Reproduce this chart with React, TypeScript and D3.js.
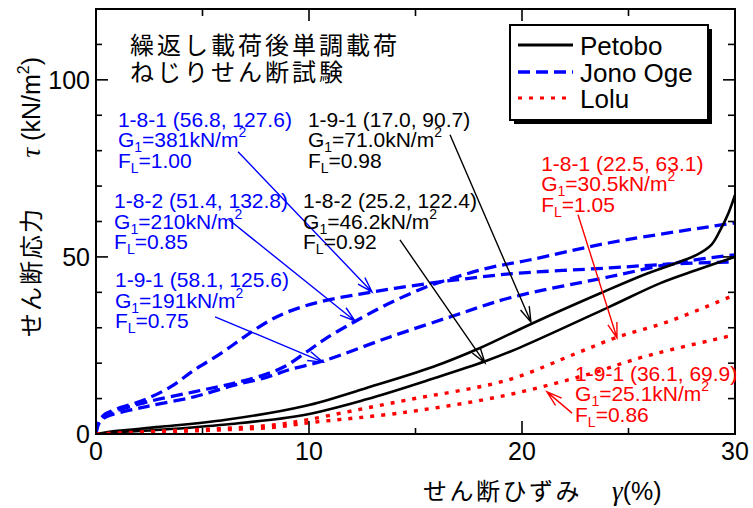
import React from "react";
import * as d3 from "d3";

// ---- data: shear strain γ (%) vs shear stress τ (kN/m²) ----
type Pt = [number, number];

// Petobo (solid black)
const petobo191: Pt[] = [
  [0, 0], [1, 0.9], [3, 2], [6.1, 4], [9.8, 7.9], [12.7, 13], [15.8, 18.9],
  [18, 24.2], [20.4, 31], [23.7, 39.8], [25.7, 44.9], [28.2, 50.6],
  [28.9, 53.5], [29.3, 57.5], [29.7, 62.5], [30, 67.5],
];
const petobo182: Pt[] = [
  [0, 0], [1, 0.5], [3, 1.2], [6.1, 2.7], [9.7, 5.3], [12.7, 9.8], [15.8, 15.6],
  [18.3, 20.6], [19.9, 24.4], [24.1, 35.9], [26.5, 42.6], [28.2, 46.3], [30, 50],
];

// Jono Oge (dashed blue)
const jono181: Pt[] = [
  [0, 0], [0.1, 3], [0.37, 5.4], [0.85, 6.8], [2.25, 9.6], [3.5, 13.3], [4.6, 18],
  [5.9, 22.9], [7.1, 28], [8.2, 32.2], [9.1, 34.7], [10.5, 37.3], [12.96, 40.1],
  [15.7, 42.6], [16.9, 43.5], [19.4, 45.2], [24.1, 46.9], [27.3, 48.1], [30, 48.6],
];
const jono182: Pt[] = [
  [0, 0], [0.1, 3], [0.37, 5], [2.25, 8.8], [4.6, 11.9], [6.5, 14.4], [8, 16.9],
  [8.9, 19.2], [9.8, 22.8], [10.8, 27], [12.2, 31.9], [13.8, 37], [15.5, 41.5],
  [16.9, 44.3], [18.5, 47], [20.4, 49.2], [24.1, 54], [30, 59.6],
];
const jono191: Pt[] = [
  [0, 0], [0.1, 2.5], [0.37, 4.5], [2.25, 7.6], [4.6, 10.5], [6.5, 13.8], [8, 16],
  [9.1, 18.2], [10.66, 20.6], [13.8, 27.4], [16.9, 33.6], [19.4, 38.4],
  [24.1, 44.4], [27.3, 48.4], [30, 50.6],
];

// Lolu (dotted red)
const lolu181: Pt[] = [
  [0, 0], [3.7, 1], [6.1, 1.6], [8.4, 2.6], [9.9, 4], [12, 6.5], [14.6, 9.6],
  [19.3, 15.2], [22.6, 22.9], [24.5, 27.4], [26.8, 31.6], [30, 39.3],
];
const lolu191: Pt[] = [
  [0, 0], [3.7, 0.7], [6.1, 1.2], [8.4, 1.9], [9.9, 3.1], [14.6, 6.2], [19.3, 11],
  [23.3, 17.2], [25.7, 21.8], [30, 28],
];

const xTicks = [0, 5, 10, 15, 20, 25, 30];
const xTickLabels = ["0", "10", "20", "30"];
const yTicks = [0, 10, 20, 30, 40, 50, 60, 70, 80, 90, 100, 110, 120];
const yTickLabels = ["0", "50", "100"];

const legendNames = ["Petobo", "Jono Oge", "Lolu"];
const titleLines = ["繰返し載荷後単調載荷", "ねじりせん断試験"];

// annotation blocks: text anchor (data units), arrow from → to (data units)
const annotations = [
  { id: "1-8-1 (56.8, 127.6)", g: "381kN/m", fl: "1.00", color: "#0000ff", at: [1.03, 86.7], from: [6.67, 79.7], to: [12.96, 40.1] },
  { id: "1-8-2 (51.4, 132.8)", g: "210kN/m", fl: "0.85", color: "#0000ff", at: [0.85, 63.8], from: [6.24, 60.5], to: [12.16, 31.9] },
  { id: "1-9-1 (58.1, 125.6)", g: "191kN/m", fl: "0.75", color: "#0000ff", at: [0.89, 41.5], from: [5.59, 33.1], to: [10.66, 20.3] },
  { id: "1-9-1 (17.0, 90.7)", g: "71.0kN/m", fl: "0.98", color: "#000000", at: [9.95, 86.7], from: [16.62, 84.5], to: [20.42, 31.6] },
  { id: "1-8-2 (25.2, 122.4)", g: "46.2kN/m", fl: "0.92", color: "#000000", at: [9.72, 63.8], from: [14.27, 54.8], to: [18.26, 20.1] },
  { id: "1-8-1 (22.5, 63.1)", g: "30.5kN/m", fl: "1.05", color: "#ff0000", at: [20.9, 74.3], from: [22.63, 61.9], to: [24.46, 27.1] },
  { id: "1-9-1 (36.1, 69.9)", g: "25.1kN/m", fl: "0.86", color: "#ff0000", at: [22.49, 15.0], from: [22.35, 5.9], to: [21.17, 11.9] },
];

const W = 753;
const H = 508;
const L = 96, R = 735, T = 9, B = 434;
const LATIN = "'Liberation Sans', Arial, sans-serif";
const CJK = "'Noto Sans CJK JP', sans-serif";

export default function App() {
  const x = d3.scaleLinear().domain([0, 30]).range([L, R]);
  const y = d3.scaleLinear().domain([0, 120]).range([B, T]);
  const line = d3
    .line<Pt>()
    .x((d) => x(d[0]))
    .y((d) => y(d[1]))
    .curve(d3.curveCatmullRom.alpha(0.5));

  const series = [
    { data: jono182, color: "#0000ff", w: 3.3, dash: "12 6" },
    { data: jono181, color: "#0000ff", w: 3.3, dash: "12 6" },
    { data: jono191, color: "#0000ff", w: 3.3, dash: "12 6" },
    { data: petobo191, color: "#000", w: 2.6, dash: undefined },
    { data: petobo182, color: "#000", w: 2.6, dash: undefined },
    { data: lolu181, color: "#ff0000", w: 3.4, dash: "4 7" },
    { data: lolu191, color: "#ff0000", w: 3.4, dash: "4 7" },
  ];

  const arrowHead = (fx: number, fy: number, tx: number, ty: number) => {
    const ang = Math.atan2(ty - fy, tx - fx);
    const len = 16;
    const spread = 0.3;
    const a1 = ang + Math.PI - spread;
    const a2 = ang + Math.PI + spread;
    return `M${tx + len * Math.cos(a1)},${ty + len * Math.sin(a1)}L${tx},${ty}L${tx + len * Math.cos(a2)},${ty + len * Math.sin(a2)}`;
  };

  const legendStyles = [
    { color: "#000", w: 3, dash: undefined },
    { color: "#0000ff", w: 3.3, dash: "12 6" },
    { color: "#ff0000", w: 3.2, dash: "4 7" },
  ];
  const legendY = [45, 72, 98];
  const legendBase = [55, 82, 108];

  return (
    <svg
      width={W}
      height={H}
      style={{ position: "absolute", left: 0, top: 0, background: "#fff" }}
    >
      <rect x={0} y={0} width={W} height={H} fill="#fff" />

      {/* curves */}
      <defs>
        <clipPath id="plotClip">
          <rect x={L} y={T} width={R - L} height={B - T} />
        </clipPath>
      </defs>
      <g clipPath="url(#plotClip)">
        {series.map((s, i) => (
          <path
            key={i}
            d={line(s.data) || ""}
            fill="none"
            stroke={s.color}
            strokeWidth={s.w}
            strokeDasharray={s.dash}
          />
        ))}
      </g>

      {/* frame */}
      <rect x={L} y={T} width={R - L} height={B - T} fill="none" stroke="#000" strokeWidth={2} />

      {/* ticks */}
      {xTicks.map((t) => {
        const major = t % 10 === 0;
        return (
          <g key={"xt" + t} stroke="#000" strokeWidth={1.6}>
            <line x1={x(t)} x2={x(t)} y1={B} y2={B - (major ? 13 : 6)} />
            <line x1={x(t)} x2={x(t)} y1={T} y2={T + (major ? 12 : 7)} />
          </g>
        );
      })}
      {yTicks.map((t) => {
        const major = t % 50 === 0;
        return (
          <g key={"yt" + t} stroke="#000" strokeWidth={1.6}>
            <line x1={L} x2={L + (major ? 12 : 6)} y1={y(t)} y2={y(t)} />
            <line x1={R} x2={R - (major ? 12 : 7)} y1={y(t)} y2={y(t)} />
          </g>
        );
      })}

      {/* tick labels */}
      {xTickLabels.map((s) => (
        <text key={"xl" + s} x={x(+s)} y={460} textAnchor="middle" fontFamily={LATIN} fontSize={25}>
          {s}
        </text>
      ))}
      {yTickLabels.map((s) => (
        <text key={"yl" + s} x={90} y={y(+s) + 9} textAnchor="end" fontFamily={LATIN} fontSize={25}>
          {s}
        </text>
      ))}

      {/* axis titles */}
      <text x={423} y={500} fontFamily={CJK} fontSize={24} letterSpacing={2.5}>
        せん断ひずみ
      </text>
      <text x={612} y={500} fontFamily={LATIN} fontSize={25}>
        <tspan fontFamily="'Liberation Serif', serif" fontStyle="italic" fontSize={27}>γ</tspan>
        <tspan>(%)</tspan>
      </text>
      <text transform="translate(40,337) rotate(-90)" fontFamily={CJK} fontSize={24} letterSpacing={2}>
        せん断応力
      </text>
      <text transform="translate(40,57) rotate(-90)" textAnchor="end" fontFamily={LATIN} fontSize={25}>
        <tspan fontFamily="'Liberation Serif', serif" fontStyle="italic" fontSize={27}>τ</tspan>
        <tspan> (kN/m</tspan>
        <tspan fontSize={16} dy={-11}>2</tspan>
        <tspan dy={11}>)</tspan>
      </text>

      {/* title */}
      {titleLines.map((s, i) => (
        <text key={s} x={130} y={54 + i * 27} fontFamily={CJK} fontSize={24} letterSpacing={3}>
          {s}
        </text>
      ))}

      {/* annotations */}
      {annotations.map((a, i) => {
        const tx = x(a.at[0]);
        const ty = y(a.at[1]);
        const fx = x(a.from[0]);
        const fy = y(a.from[1]);
        const ex = x(a.to[0]);
        const ey = y(a.to[1]);
        return (
          <g key={i} fill={a.color}>
            <text x={tx} y={ty} fontFamily={LATIN} fontSize={21}>
              {a.id}
            </text>
            <text x={tx} y={ty + 20.5} fontFamily={LATIN} fontSize={21}>
              <tspan>G</tspan>
              <tspan fontSize={14} dy={5}>1</tspan>
              <tspan dy={-5}>={a.g}</tspan>
              <tspan fontSize={14} dy={-10}>2</tspan>
            </text>
            <text x={tx} y={ty + 41} fontFamily={LATIN} fontSize={21}>
              <tspan>F</tspan>
              <tspan fontSize={14} dy={5}>L</tspan>
              <tspan dy={-5}>={a.fl}</tspan>
            </text>
            <path
              d={`M${fx},${fy}L${ex},${ey}` + arrowHead(fx, fy, ex, ey)}
              fill="none"
              stroke={a.color}
              strokeWidth={1.4}
            />
          </g>
        );
      })}

      {/* legend */}
      <rect x={514} y={29} width={198} height={95} fill="#000" />
      <rect x={510} y={25} width={198} height={95} fill="#fff" stroke="#000" strokeWidth={2} />
      {legendNames.map((n, i) => (
        <g key={n}>
          <line
            x1={518}
            x2={573}
            y1={legendY[i]}
            y2={legendY[i]}
            stroke={legendStyles[i].color}
            strokeWidth={legendStyles[i].w}
            strokeDasharray={legendStyles[i].dash}
          />
          <text x={580} y={legendBase[i]} fontFamily={LATIN} fontSize={26}>
            {n}
          </text>
        </g>
      ))}
    </svg>
  );
}
